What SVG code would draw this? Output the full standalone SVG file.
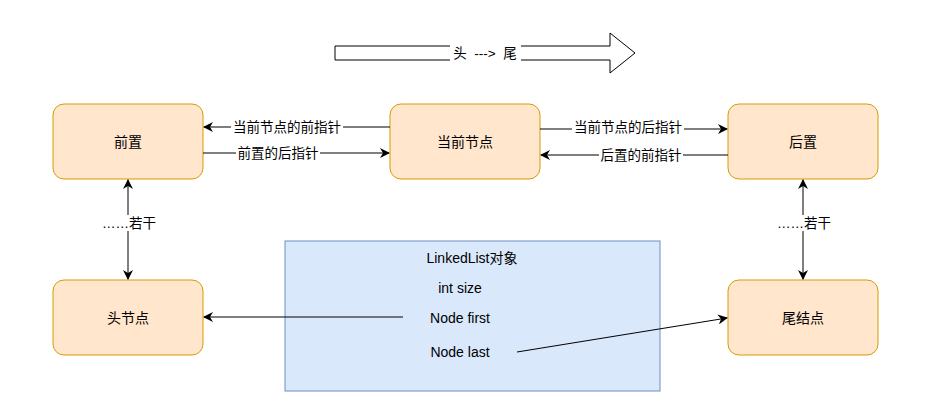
<svg xmlns="http://www.w3.org/2000/svg" width="942" height="409" viewBox="0 0 942 409">
<style>
.node{fill:#ffe6cc;stroke:#d79b00;stroke-width:1}
.t{font-family:"Liberation Sans","Noto Sans CJK SC",sans-serif;font-size:14px;fill:#000;text-anchor:middle;dominant-baseline:central}
.s{font-size:13.5px}
.c{stroke:#000;stroke-width:1;fill:none}
.lbl{fill:#fff}
</style>
<defs>
<marker id="ah" viewBox="0 0 10 10" refX="9" refY="5" markerWidth="10" markerHeight="10" markerUnits="userSpaceOnUse" orient="auto-start-reverse">
<path d="M0,0 L10,5 L0,10 L3,5 Z" fill="#000"/>
</marker>
</defs>
<rect width="942" height="409" fill="#fff"/>
<g id="direction-arrow">
<path d="M335,46 L610,46 L610,33 L635,53 L610,73 L610,60 L335,60 Z" fill="#fff" stroke="#000" stroke-width="1"/>
<rect x="450" y="45" width="71" height="16" fill="#fff"/>
<text class="t s" x="485" y="53" xml:space="preserve">头  ---&gt;  尾</text>
</g>
<g id="node-prev"><rect class="node" x="53" y="104" width="150" height="75" rx="11"/><text class="t" x="128" y="141.5">前置</text></g>
<g id="node-current"><rect class="node" x="390" y="104" width="150" height="75" rx="11"/><text class="t" x="465" y="141.5">当前节点</text></g>
<g id="node-next"><rect class="node" x="728" y="104" width="150" height="75" rx="11"/><text class="t" x="803" y="141.5">后置</text></g>
<g id="node-head"><rect class="node" x="53" y="280" width="150" height="75" rx="11"/><text class="t" x="128" y="317.5">头节点</text></g>
<g id="node-tail"><rect class="node" x="728" y="280" width="150" height="75" rx="11"/><text class="t" x="803" y="317.5">尾结点</text></g>
<g id="linkedlist">
<rect x="285" y="241" width="375" height="150" fill="#dae8fc" stroke="#6c8ebf" stroke-width="1"/>
<text class="t" x="472" y="258">LinkedList对象</text>
<text class="t" x="460" y="288">int size</text>
<text class="t" x="460" y="318">Node first</text>
<text class="t" x="460" y="352">Node last</text>
</g>
<g id="connectors">
<line class="c" x1="390" y1="127" x2="204" y2="127" marker-end="url(#ah)"/>
<rect class="lbl" x="231" y="119" width="112" height="16"/>
<text class="t s" x="287" y="127">当前节点的前指针</text>
<line class="c" x1="203" y1="153" x2="389" y2="153" marker-end="url(#ah)"/>
<rect class="lbl" x="236" y="145" width="84" height="16"/>
<text class="t s" x="278" y="153">前置的后指针</text>
<line class="c" x1="540" y1="129" x2="727" y2="129" marker-end="url(#ah)"/>
<rect class="lbl" x="572" y="121" width="112" height="16"/>
<text class="t s" x="628" y="127">当前节点的后指针</text>
<line class="c" x1="728" y1="155" x2="541" y2="155" marker-end="url(#ah)"/>
<rect class="lbl" x="599" y="147" width="84" height="16"/>
<text class="t s" x="641" y="155">后置的前指针</text>
<line class="c" x1="128" y1="180" x2="128" y2="279" marker-start="url(#ah)" marker-end="url(#ah)"/>
<rect class="lbl" x="100" y="215" width="58" height="16"/>
<text class="t s" x="129" y="223">……若干</text>
<line class="c" x1="803" y1="180" x2="803" y2="279" marker-start="url(#ah)" marker-end="url(#ah)"/>
<rect class="lbl" x="775" y="215" width="58" height="16"/>
<text class="t s" x="804" y="223">……若干</text>
<line class="c" x1="403" y1="317" x2="204" y2="317" marker-end="url(#ah)"/>
<line class="c" x1="517" y1="352" x2="727" y2="318" marker-end="url(#ah)"/>
</g>
</svg>
